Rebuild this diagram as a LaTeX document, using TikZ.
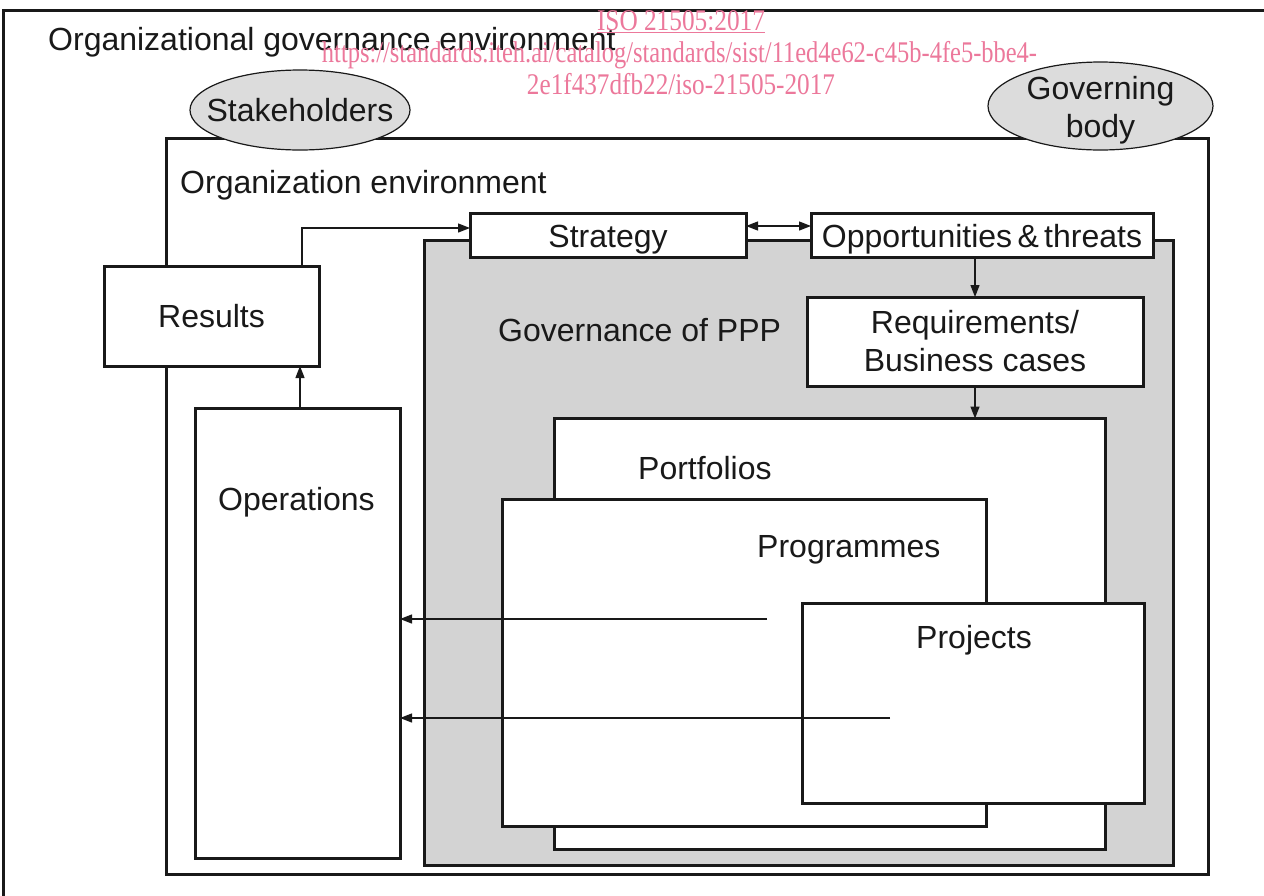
\documentclass[tikz,border=0pt]{standalone}
\usepackage{fontspec}
\setmainfont{Liberation Sans}
\newfontfamily\wmfont{Liberation Serif}
\usetikzlibrary{shapes.geometric,arrows.meta}
\definecolor{panelgray}{RGB}{211,211,211}
\definecolor{ovalgray}{RGB}{220,220,220}
\definecolor{linkpink}{RGB}{236,120,155}
\definecolor{ink}{RGB}{25,25,25}
\tikzset{
  frame/.style={draw=ink, line width=3pt, inner sep=0pt, outer sep=0pt, rectangle},
  whitebox/.style={frame, fill=white, font=\fontsize{32}{37}\selectfont, text=ink, align=center},
  slimbox/.style={whitebox, text height=23pt, text depth=0pt},
  oval/.style={ellipse, draw=ink, line width=1.2pt, fill=ovalgray, inner sep=0pt},
  lbl/.style={anchor=base west, inner sep=0pt, font=\fontsize{32}{37}\selectfont, text=ink},
  clbl/.style={lbl, anchor=base},
  tip/.tip={Triangle[length=12pt,width=9pt]},
  flow/.style={draw=ink, line width=1.3pt, -tip},
  wm/.style={anchor=base, inner sep=0pt, text=linkpink, font=\wmfont\fontsize{30}{30}\selectfont},
}
\begin{document}
\begin{tikzpicture}[x=1pt,y=-1pt]
\useasboundingbox (0,0) rectangle (1264,895);
\clip (0,0) rectangle (1264,895);
\fill[white] (0,0) rectangle (1264,895);

% outermost frame (runs past the right and bottom edges)
\node[frame, minimum width=1300pt, minimum height=920pt] (govenv) at (653,470) {};
\node[lbl] (govenvlbl) at (48,50) {Organizational governance environment};

% organization environment
\node[frame, fill=white, minimum width=1042pt, minimum height=736pt] (orgenv) at (687,506.5) {};
\node[lbl] (orgenvlbl) at (180,193) {Organization environment};

% stakeholders and governing body
\node[oval, minimum width=220pt, minimum height=80pt] (stake) at (300,110) {};
\node[clbl] (stakelbl) at (300,121) {Stakeholders};
\node[oval, minimum width=225pt, minimum height=88pt] (govbody) at (1100.5,106) {};
\node[clbl] (govbodylbl1) at (1100.5,99) {Governing};
\node[clbl] (govbodylbl2) at (1100.5,137) {body};

% governance of PPP panel
\node[frame, fill=panelgray, minimum width=749pt, minimum height=625pt] (ppp) at (798.5,553) {};
\node[lbl] (ppplbl) at (498,341) {Governance of PPP};

% boxes
\node[slimbox, minimum width=276pt, minimum height=44pt] (strategy) at (608,235.5) {Strategy};
\node[slimbox, minimum width=342pt, minimum height=44pt] (opp) at (982,235.5) {Opportunities\,\&\,threats};
\node[whitebox, minimum width=215pt, minimum height=100pt] (results) at (211.5,316) {Results};
\node[whitebox, minimum width=205pt, minimum height=450pt] (operations) at (297.5,633.5) {};
\node[lbl] (operationslbl) at (218,510) {Operations};
\node[whitebox, minimum width=336pt, minimum height=89pt] (req) at (975,341.5) {Requirements/\\[1pt]Business cases};
\node[whitebox, minimum width=551pt, minimum height=431pt] (portfolios) at (829.5,634) {};
\node[lbl] (portfolioslbl) at (638,479) {Portfolios};
\node[whitebox, minimum width=484pt, minimum height=327pt] (programmes) at (744,662.5) {};
\node[lbl] (programmeslbl) at (757,557) {Programmes};
\node[whitebox, minimum width=342pt, minimum height=200pt] (projects) at (973,703.5) {};
\node[lbl] (projectslbl) at (916,648) {Projects};

% connectors
\draw[flow] ([xshift=90.5pt]results.north) |- ([yshift=7.5pt]strategy.west);
\draw[flow] ([xshift=2.5pt]operations.north) -- ([xshift=88.5pt]results.south);
\draw[flow, tip-tip] ([yshift=9.5pt]strategy.east) -- ([yshift=9.5pt]opp.west);
\draw[flow] (opp.south -| req.north) -- (req.north);
\draw[flow] (req.south) -- (req.south |- portfolios.north);
\coordinate (pgmsrc) at (767,619);
\coordinate (prjsrc) at (890,718);
\draw[flow] (pgmsrc) -- (pgmsrc -| operations.east);
\draw[flow] (prjsrc) -- (prjsrc -| operations.east);

% catalogue reference
\node[wm] (wm1) at (681,30) {\resizebox{168pt}{\height}{\underline{ISO 21505:2017}}};
\node[wm] (wm2) at (679.5,62) {\resizebox{715pt}{\height}{https://standards.iteh.ai/catalog/standards/sist/11ed4e62-c45b-4fe5-bbe4-}};
\node[wm] (wm3) at (681,94) {\resizebox{308pt}{\height}{2e1f437dfb22/iso-21505-2017}};
\end{tikzpicture}
\end{document}
